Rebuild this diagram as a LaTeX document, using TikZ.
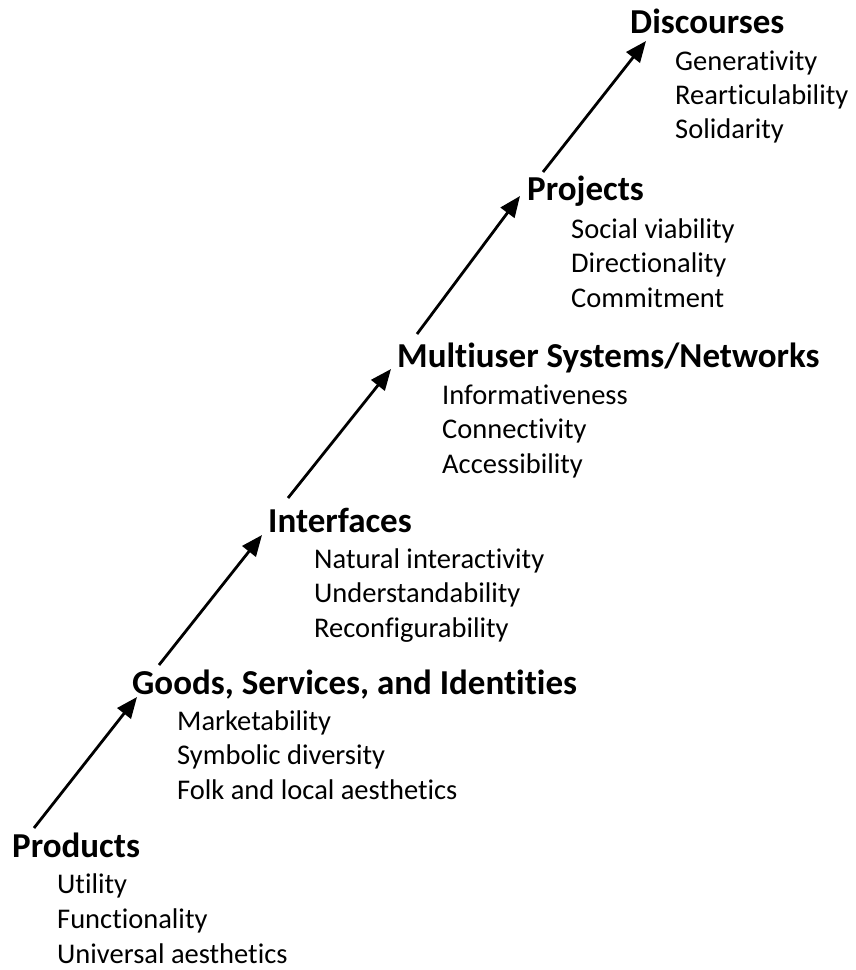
\documentclass[tikz,border=0pt]{standalone}
\usepackage{fontspec}
\setmainfont{Carlito}[RawFeature={-liga;-clig;-dlig}]
\usetikzlibrary{arrows.meta}
\begin{document}
\begin{tikzpicture}[x=1pt,y=-1pt,
  head/.style={anchor=base west,inner sep=0pt,font=\fontsize{35}{40}\selectfont\bfseries},
  item/.style={anchor=base west,inner sep=0pt,font=\fontsize{28.5}{34}\selectfont},
  conn/.style={line width=2.8pt,-{Triangle[length=21pt,width=17pt]}}]
\useasboundingbox (0,0) rectangle (855,970);
% Products
\node[head] (p) at (12,857) {Products};
\node[item] (p1) at (57,893) {Utility};
\node[item] (p2) at (57,928) {Functionality};
\node[item] (p3) at (57,963) {Universal aesthetics};
% Goods
\node[head] (g) at (132,694) {Goods, Services, and Identities};
\node[item] (g1) at (177,730) {Marketability};
\node[item] (g2) at (177,764) {Symbolic diversity};
\node[item] (g3) at (177,799) {Folk and local aesthetics};
% Interfaces
\node[head] (i) at (268,532) {Interfaces};
\node[item] (i1) at (314,568) {Natural interactivity};
\node[item] (i2) at (314,602) {Understandability};
\node[item] (i3) at (314,637) {Reconfigurability};
% Multiuser
\node[head] (m) at (397,367) {Multiuser Systems/Networks};
\node[item] (m1) at (442,404) {Informativeness};
\node[item] (m2) at (442,438) {Connectivity};
\node[item] (m3) at (442,473) {Accessibility};
% Projects
\node[head] (pr) at (527,200) {Projects};
\node[item] (pr1) at (571,238) {Social viability};
\node[item] (pr2) at (571,272) {Directionality};
\node[item] (pr3) at (571,307) {Commitment};
% Discourses
\node[head] (d) at (630,33) {Discourses};
\node[item] (d1) at (675,70) {Generativity};
\node[item] (d2) at (675,104) {Rearticulability};
\node[item] (d3) at (675,138) {Solidarity};
% arrows
\coordinate (a1s) at (34,828);
\coordinate (a1e) at (137,697);
\coordinate (a2s) at (159,665);
\coordinate (a2e) at (262,535);
\coordinate (a3s) at (288,498);
\coordinate (a3e) at (391,369);
\coordinate (a4s) at (417,334);
\coordinate (a4e) at (520,196);
\coordinate (a5s) at (543,172);
\coordinate (a5e) at (646,41);
\draw[conn] (a1s) -- (a1e);
\draw[conn] (a2s) -- (a2e);
\draw[conn] (a3s) -- (a3e);
\draw[conn] (a4s) -- (a4e);
\draw[conn] (a5s) -- (a5e);
\end{tikzpicture}
\end{document}
